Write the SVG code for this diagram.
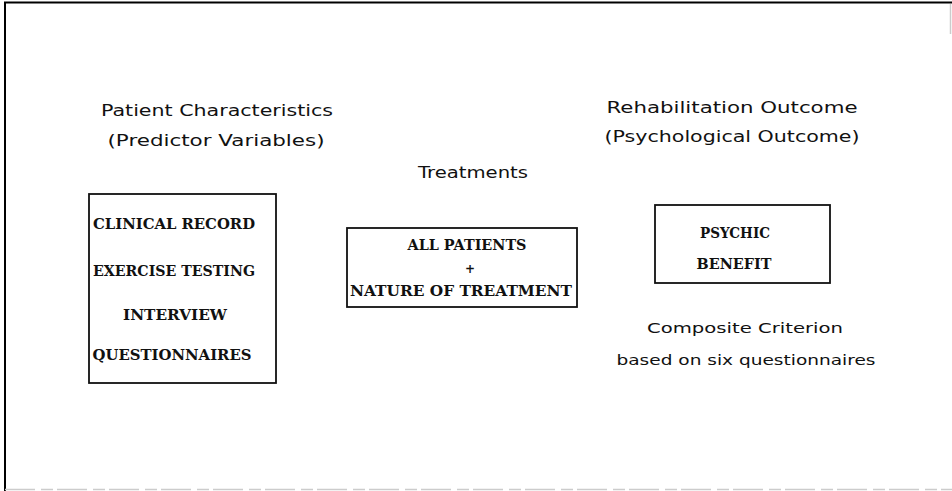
<svg xmlns="http://www.w3.org/2000/svg" width="952" height="491" viewBox="0 0 952 491">
  <style>
    .frame { fill: none; stroke: #000; stroke-width: 2; }
    .faint { fill: none; stroke: #ccc; stroke-width: 1.5; stroke-dasharray: 30 6 12 4; }
    .box { fill: #fff; stroke: #111; stroke-width: 1.8; }
    .label { font-family: "DejaVu Sans", "Liberation Sans", sans-serif; font-size: 16px; fill: #111; text-anchor: middle; }
    .small { font-size: 14px; }
    .item { font-family: "DejaVu Serif", "Liberation Serif", serif; font-weight: bold; font-size: 15px; fill: #111; text-anchor: middle; }
    .plus { font-size: 12px; }
  </style>

  <rect width="952" height="491" fill="#fff"/>

  <!-- outer frame -->
  <g id="frame">
    <line class="frame" x1="4" y1="2.5" x2="952" y2="2.5"/>
    <line class="frame" x1="5" y1="2" x2="5" y2="491"/>
    <line class="faint" x1="5" y1="489.5" x2="952" y2="489.5"/>
    <line class="faint" x1="950.5" y1="4" x2="950.5" y2="40"/>
  </g>

  <!-- column headings -->
  <g id="heading-patient">
    <text class="label" x="217" y="116" textLength="232" lengthAdjust="spacingAndGlyphs">Patient Characteristics</text>
    <text class="label" x="216" y="146" textLength="217" lengthAdjust="spacingAndGlyphs">(Predictor Variables)</text>
  </g>
  <g id="heading-treatments">
    <text class="label" x="473" y="178" textLength="110" lengthAdjust="spacingAndGlyphs">Treatments</text>
  </g>
  <g id="heading-outcome">
    <text class="label" x="732" y="113" textLength="251" lengthAdjust="spacingAndGlyphs">Rehabilitation Outcome</text>
    <text class="label" x="732" y="142" textLength="255" lengthAdjust="spacingAndGlyphs">(Psychological Outcome)</text>
  </g>

  <!-- predictor box -->
  <g id="predictors">
    <rect class="box" x="89" y="194" width="187" height="189"/>
    <text class="item" x="174" y="229" textLength="162" lengthAdjust="spacingAndGlyphs">CLINICAL RECORD</text>
    <text class="item" x="174" y="276" textLength="162" lengthAdjust="spacingAndGlyphs">EXERCISE TESTING</text>
    <text class="item" x="175" y="320" textLength="104" lengthAdjust="spacingAndGlyphs">INTERVIEW</text>
    <text class="item" x="172" y="360" textLength="159" lengthAdjust="spacingAndGlyphs">QUESTIONNAIRES</text>
  </g>

  <!-- treatment box -->
  <g id="treatments">
    <rect class="box" x="347" y="228" width="230" height="79"/>
    <text class="item" x="467" y="250" textLength="119" lengthAdjust="spacingAndGlyphs">ALL PATIENTS</text>
    <text class="item plus" x="470" y="273">+</text>
    <text class="item" x="461" y="296" textLength="222" lengthAdjust="spacingAndGlyphs">NATURE OF TREATMENT</text>
  </g>

  <!-- outcome box -->
  <g id="outcome">
    <rect class="box" x="655" y="205" width="175" height="78"/>
    <text class="item" x="735" y="238" textLength="70" lengthAdjust="spacingAndGlyphs">PSYCHIC</text>
    <text class="item" x="734" y="269" textLength="75" lengthAdjust="spacingAndGlyphs">BENEFIT</text>
  </g>

  <!-- outcome note -->
  <g id="outcome-note">
    <text class="label small" x="745" y="333" textLength="196" lengthAdjust="spacingAndGlyphs">Composite Criterion</text>
    <text class="label small" x="746" y="365" textLength="259" lengthAdjust="spacingAndGlyphs">based on six questionnaires</text>
  </g>
</svg>
